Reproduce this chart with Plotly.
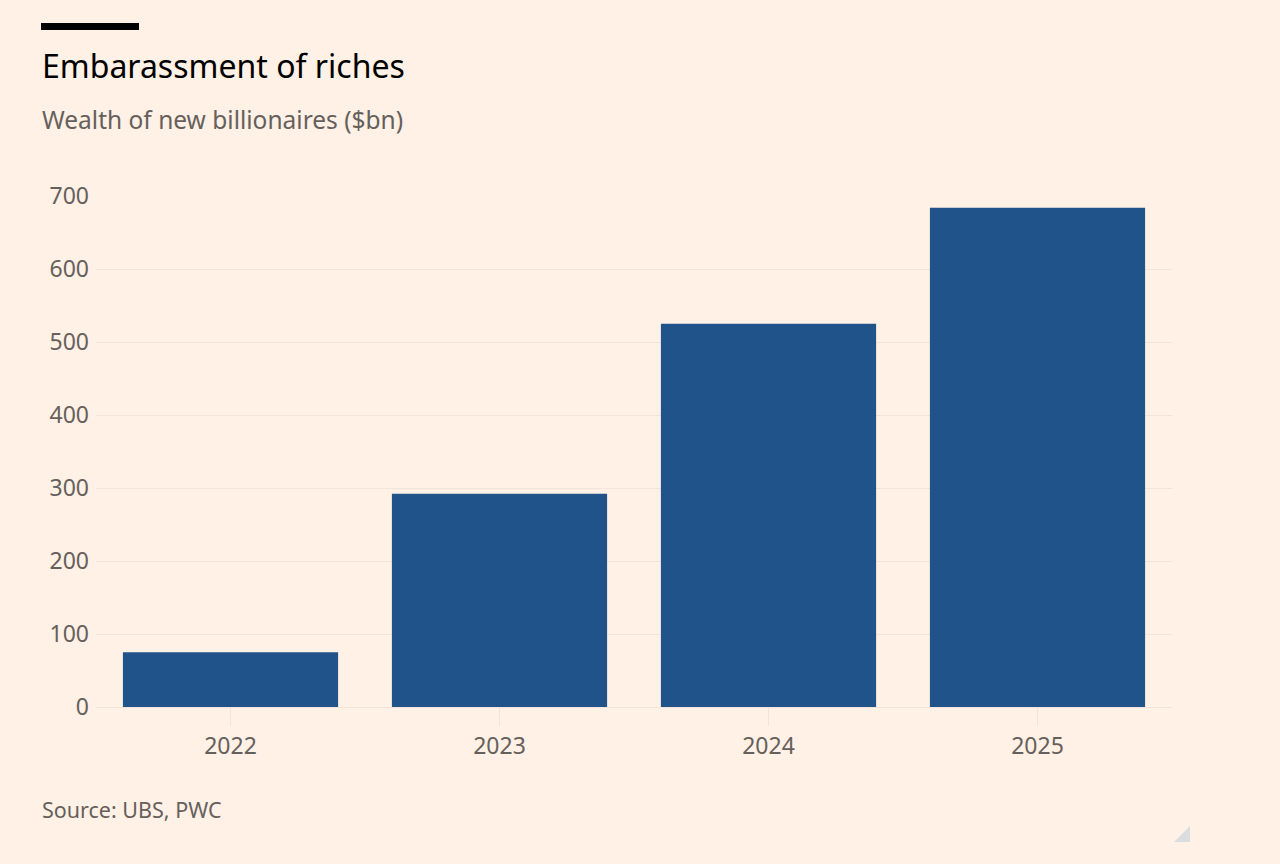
import plotly.graph_objects as go

years = ["2022", "2023", "2024", "2025"]
wealth_bn = [75, 292, 525, 684]
y_ticks = [0, 100, 200, 300, 400, 500, 600, 700]

BG = "#FFF1E5"
BAR = "#1F5389"
GREY = "#66605C"
GRID = "#F2E4D8"
FONT = "Noto Sans"

W, H = 1280, 864
L, R, T, B = 96, 108, 196, 157
PW, PH = W - L - R, H - T - B


def px(x):
    return (x - L) / PW


def py(y):
    return (H - B - y) / PH


fig = go.Figure()
fig.add_trace(go.Bar(x=years, y=wealth_bn, marker=dict(color=BAR, line=dict(width=0)),
                     hoverinfo="x+y"))

fig.update_layout(
    width=W, height=H,
    paper_bgcolor=BG, plot_bgcolor=BG,
    margin=dict(l=L, r=R, t=T, b=B),
    bargap=0.2,
    showlegend=False,
    font=dict(family=FONT, color=GREY, size=23),
    xaxis=dict(type="category", range=[-0.5, 3.5], showgrid=False, showline=False,
               ticks="outside", ticklen=18, tickcolor=GRID, tickwidth=1,
               tickfont=dict(size=23, color=GREY)),
    yaxis=dict(range=[0, 700], tickvals=y_ticks, showgrid=True, gridcolor=GRID, gridwidth=1,
               zeroline=True, zerolinecolor=GRID, zerolinewidth=1,
               ticks="", ticklabelstandoff=6, tickfont=dict(size=23, color=GREY)),
)

# title block
fig.add_shape(type="rect", xref="paper", yref="paper",
              x0=px(41), x1=px(139), y0=py(30), y1=py(23),
              fillcolor="#000000", line=dict(width=0))

fig.add_annotation(text="Embarassment of riches", xref="paper", yref="paper",
                   x=px(40), y=py(66), xanchor="left", yanchor="middle", showarrow=False,
                   font=dict(family=FONT, size=32, color="#000000"))
fig.add_annotation(text="Wealth of new billionaires ($bn)", xref="paper", yref="paper",
                   x=px(40), y=py(119), xanchor="left", yanchor="middle", showarrow=False,
                   font=dict(family=FONT, size=24.5, color=GREY))
fig.add_annotation(text="Source: UBS, PWC", xref="paper", yref="paper",
                   x=px(40), y=py(809), xanchor="left", yanchor="middle", showarrow=False,
                   font=dict(family=FONT, size=21.5, color=GREY))

# small corner marker
fig.add_shape(type="path", xref="paper", yref="paper",
              path="M %f,%f L %f,%f L %f,%f Z" % (px(1174), py(842), px(1190), py(842),
                                                  px(1190), py(826)),
              fillcolor="#DADDE0", line=dict(width=0))

# drop the page margin so the figure fills the window
fig.write_html("out.html", config={"displayModeBar": False},
               post_script="document.body.style.margin='0';"
                           "document.body.style.background='%s';" % BG)
